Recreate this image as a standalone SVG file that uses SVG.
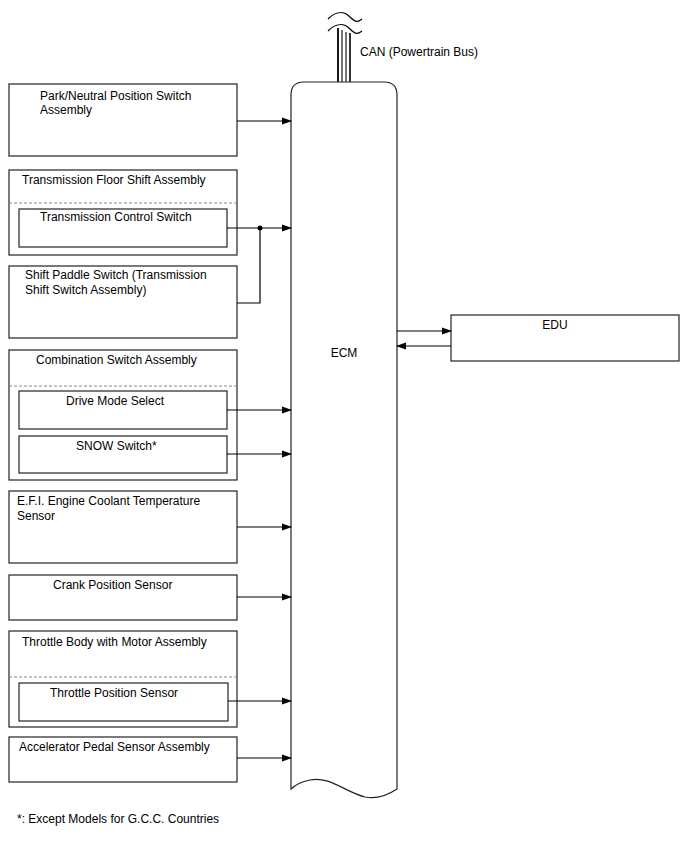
<svg xmlns="http://www.w3.org/2000/svg" width="688" height="852" viewBox="0 0 688 852">
<defs>
<marker id="ah" markerWidth="10" markerHeight="8" refX="9" refY="4" orient="auto" markerUnits="userSpaceOnUse">
<path d="M0,0.5 L10,4 L0,7.5 Z" fill="#000"/>
</marker>
<style>
text{font-family:"Liberation Sans",Arial,sans-serif;font-size:12px;fill:#000}
.box{fill:#fff;stroke:#222;stroke-width:1.2}
.dash{stroke:#888;stroke-width:1;stroke-dasharray:3,2;fill:none}
.con{stroke:#000;stroke-width:1.2;fill:none}
.arr{stroke:#000;stroke-width:1.2;fill:none;marker-end:url(#ah)}
</style>
</defs>
<rect width="688" height="852" fill="#fff"/>

<g id="can">
<path class="con" d="M328,19 C336,11 344,11 350,17 S358,22 362,19"/>
<path class="con" d="M328,31 C336,23 344,23 350,29 S358,34 362,31"/>
<line x1="338" y1="28" x2="338" y2="82" stroke="#000" stroke-width="1.8"/>
<line x1="342" y1="30" x2="342" y2="82" stroke="#000" stroke-width="1.1"/>
<line x1="346" y1="32" x2="346" y2="82" stroke="#000" stroke-width="1.1"/>
<line x1="350" y1="33" x2="350" y2="82" stroke="#000" stroke-width="1.6"/>
<text x="360" y="56">CAN (Powertrain Bus)</text>
</g>

<g id="ecm">
<path class="box" d="M291,789 L291,95 Q291,82 304,82 L384,82 Q397,82 397,95 L397,789 C385,797 375,799 365,797 C345,792 330,776 310,780 C300,782 295,785 291,789 Z"/>
<text x="344" y="357" text-anchor="middle">ECM</text>
</g>

<g id="park">
<rect class="box" x="9" y="84" width="228" height="72"/>
<text x="40" y="100">Park/Neutral Position Switch</text>
<text x="40" y="114">Assembly</text>
</g>

<g id="floorshift">
<rect class="box" x="9" y="170" width="228" height="85"/>
<text x="22" y="184">Transmission Floor Shift Assembly</text>
<line class="dash" x1="9" y1="203" x2="237" y2="203"/>
<g id="tcs">
<rect class="box" x="19" y="209" width="208" height="38"/>
<text x="40" y="221">Transmission Control Switch</text>
</g>
</g>

<g id="paddle">
<rect class="box" x="9" y="266" width="228" height="72"/>
<text x="25" y="279">Shift Paddle Switch (Transmission</text>
<text x="25" y="294">Shift Switch Assembly)</text>
</g>

<g id="combo">
<rect class="box" x="9" y="350" width="228" height="130"/>
<text x="36" y="364">Combination Switch Assembly</text>
<line class="dash" x1="9" y1="386" x2="237" y2="386"/>
<g id="drivemode">
<rect class="box" x="19" y="391" width="208" height="38"/>
<text x="66" y="405">Drive Mode Select</text>
</g>
<g id="snow">
<rect class="box" x="19" y="436" width="208" height="37"/>
<text x="76" y="450">SNOW Switch*</text>
</g>
</g>

<g id="efi">
<rect class="box" x="9" y="491" width="228" height="72"/>
<text x="17" y="505">E.F.I. Engine Coolant Temperature</text>
<text x="17" y="520">Sensor</text>
</g>

<g id="crank">
<rect class="box" x="9" y="575" width="228" height="45"/>
<text x="53" y="589">Crank Position Sensor</text>
</g>

<g id="throttle">
<rect class="box" x="9" y="631" width="228" height="96"/>
<text x="22" y="646">Throttle Body with Motor Assembly</text>
<line class="dash" x1="9" y1="677" x2="237" y2="677"/>
<g id="tps">
<rect class="box" x="19" y="683" width="209" height="38"/>
<text x="50" y="697">Throttle Position Sensor</text>
</g>
</g>

<g id="accel">
<rect class="box" x="9" y="737" width="228" height="45"/>
<text x="19" y="751">Accelerator Pedal Sensor Assembly</text>
</g>

<g id="edu">
<rect class="box" x="451" y="315" width="228" height="46"/>
<text x="555" y="329" text-anchor="middle">EDU</text>
</g>

<g id="connectors">
<line class="arr" x1="237" y1="121" x2="291" y2="121"/>
<line class="arr" x1="227" y1="228" x2="291" y2="228"/>
<polyline class="con" points="237,303 260,303 260,228"/>
<circle cx="260" cy="228" r="2.5" fill="#000"/>
<line class="arr" x1="227" y1="410" x2="291" y2="410"/>
<line class="arr" x1="227" y1="454" x2="291" y2="454"/>
<line class="arr" x1="237" y1="527" x2="291" y2="527"/>
<line class="arr" x1="237" y1="597" x2="291" y2="597"/>
<line class="arr" x1="228" y1="701" x2="291" y2="701"/>
<line class="arr" x1="237" y1="758" x2="291" y2="758"/>
<line class="arr" x1="397" y1="331" x2="451" y2="331"/>
<line class="arr" x1="451" y1="346" x2="397" y2="346"/>
</g>

<text x="17" y="823">*: Except Models for G.C.C. Countries</text>
</svg>
